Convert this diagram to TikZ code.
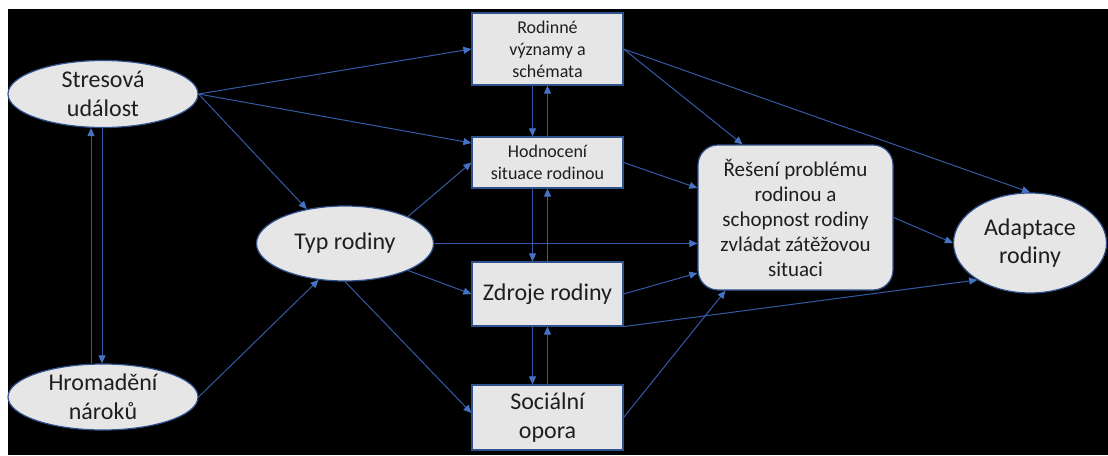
\documentclass[tikz,border=0pt]{standalone}
\usepackage{fontspec}
\setmainfont{Carlito}
\usetikzlibrary{shapes.geometric,arrows.meta}
\definecolor{lnblue}{RGB}{68,114,196}
\definecolor{lndark}{RGB}{52,90,165}
\definecolor{bdblue}{RGB}{47,82,143}
\definecolor{shfill}{RGB}{231,230,230}
\definecolor{txtcol}{RGB}{30,30,30}
\tikzset{
  ell/.style={ellipse, draw=bdblue, line width=1.2pt, fill=shfill, inner sep=0pt},
  lbl/.style={align=center, text=txtcol, font=\fontsize{24}{28.5}\selectfont, inner sep=0pt},
  boxnode/.style={rectangle, draw=bdblue, line width=1.2pt, fill=shfill, inner sep=0pt,
    minimum width=151pt, align=center, text=txtcol},
  conn/.style={draw=lndark, line width=1pt, -{Triangle[length=8pt,width=7pt,color=lnblue,fill=lnblue]}}
}
\begin{document}
\begin{tikzpicture}[x=1pt,y=-1pt]
\fill[white] (0,0) rectangle (1108,455);
\fill[black] (8,9) rectangle (1108,455);
\useasboundingbox (0,0) rectangle (1108,455);

% ellipses
\node[ell, minimum width=190pt, minimum height=67pt, label={[lbl]center:{Stresová\\událost}}] (stress) at (103,94) {};
\node[ell, minimum width=190pt, minimum height=66pt, label={[lbl]center:{Hromadění\\nároků}}] (hrom) at (103,397) {};
\node[ell, minimum width=177pt, minimum height=75pt, label={[lbl]center:{Typ rodiny}}] (typ) at (345,243.5) {};
\node[ell, minimum width=153pt, minimum height=100pt, label={[lbl]center:{Adaptace\\rodiny}}] (adapt) at (1030,243) {};

% boxes
\node[boxnode, minimum height=72pt, font=\fontsize{18}{22}\selectfont] (rod) at (547.5,49) {Rodinné\\významy a\\schémata};
\node[boxnode, minimum height=51pt, font=\fontsize{18}{22.5}\selectfont] (hod) at (547.5,162.5) {Hodnocení\\situace rodinou};
\node[boxnode, minimum height=64pt, font=\fontsize{24}{28.5}\selectfont] (zdr) at (547.5,294) {Zdroje rodiny};
\node[boxnode, minimum height=65pt, font=\fontsize{24}{28.5}\selectfont] (soc) at (547.5,417.5) {Sociální\\opora};
\node[boxnode, minimum width=195pt, minimum height=145pt, rounded corners=20pt, font=\fontsize{21}{25}\selectfont] (res) at (795.5,217.5) {Řešení problému\\rodinou a\\schopnost rodiny\\zvládat zátěžovou\\situaci};

% connectors
\draw[conn] (stress.east) -- (rod.west);
\draw[conn] (stress.east) -- ([yshift=19.5pt]hod.west);
\draw[conn] (stress.east) -- (typ.138);
\draw[conn] (typ.north east) -- (hod.west);
\draw[conn] (typ.east) -- (typ.east -| res.west);
\draw[conn] (typ.south east) -- (zdr.west);
\draw[conn] (typ.south) -- ([yshift=4.5pt]soc.west);
\draw[conn] (hrom.east) -- (typ.234);
\draw[conn] ([xshift=-12pt]hrom.north) -- ([xshift=-12pt]stress.south);
\draw[conn] ([xshift=-1pt]stress.south) -- ([xshift=-1pt]hrom.north);

\draw[conn] ([xshift=-15pt]rod.south) -- ([xshift=-15pt]hod.north);
\draw[conn] (hod.north) -- (rod.south);
\draw[conn] ([xshift=-15pt]hod.south) -- ([xshift=-15pt]zdr.north);
\draw[conn] (zdr.north) -- (hod.south);
\draw[conn] ([xshift=-15pt]zdr.south) -- ([xshift=-15pt]soc.north);
\draw[conn] (soc.north) -- (zdr.south);

\draw[conn] (rod.east) -- ([xshift=-53pt]res.north);
\draw[conn] (rod.east) -- (adapt.north);
\draw[conn] (hod.east) -- ([yshift=29.5pt]res.west);
\draw[conn] (zdr.east) -- ([yshift=-55.5pt]res.west);
\draw[conn] (zdr.south east) -- (adapt.215);
\draw[conn] (soc.east) -- ([xshift=-70pt]res.south);
\draw[conn] (res.east) -- (adapt.west);
\end{tikzpicture}
\end{document}
